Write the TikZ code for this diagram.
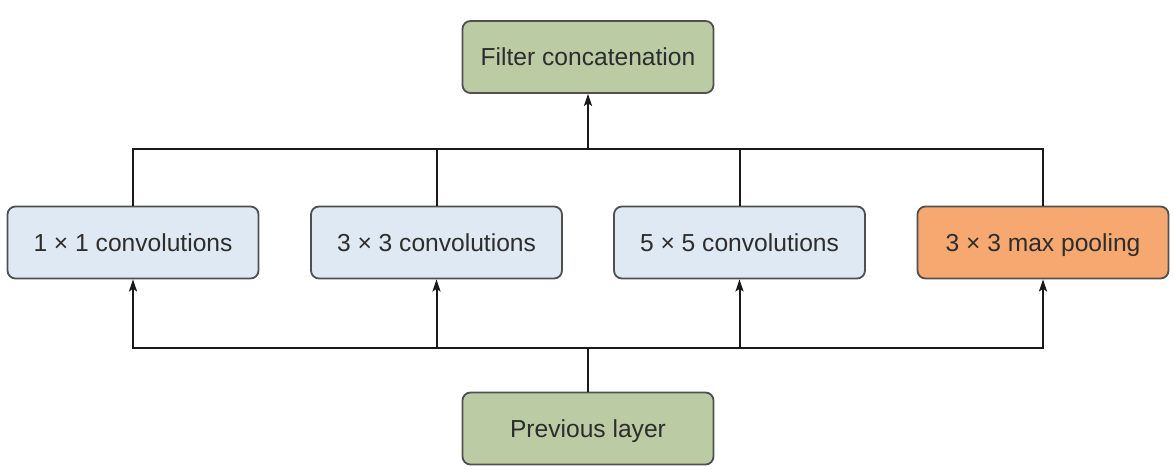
\documentclass[tikz,border=0pt]{standalone}
\usepackage{fontspec}
\setmainfont{Liberation Sans}
\usetikzlibrary{arrows.meta}
\definecolor{boxgreen}{RGB}{187,203,163}
\definecolor{boxblue}{RGB}{222,233,243}
\definecolor{boxorange}{RGB}{246,168,112}
\definecolor{edgegray}{RGB}{80,80,80}
\definecolor{txtgray}{RGB}{45,45,45}
\tikzset{
  layerbox/.style={draw=edgegray, line width=1.8pt, rounded corners=8pt,
    minimum width=251pt, minimum height=72pt, inner sep=0pt,
    text height=17.5pt, text depth=0.5pt,
    font=\fontsize{24.6}{28}\selectfont, text=txtgray},
  greenbox/.style={layerbox, fill=boxgreen},
  bluebox/.style={layerbox, fill=boxblue},
  orangebox/.style={layerbox, fill=boxorange},
  wire/.style={draw=black!90, line width=2pt},
  arr/.style={wire, -{Stealth[length=12pt,width=8pt,inset=2.5pt]}}
}
\begin{document}
\begin{tikzpicture}[x=1pt,y=-1pt]
\useasboundingbox (0,0) rectangle (1174,472);
\node[greenbox] (fc) at (588,57) {Filter concatenation};
\node[bluebox] (c1) at (133,242.5) {1 × 1 convolutions};
\node[bluebox] (c2) at (436.5,242.5) {3 × 3 convolutions};
\node[bluebox] (c3) at (739.5,242.5) {5 × 5 convolutions};
\node[orangebox] (c4) at (1043,242.5) {3 × 3 max pooling};
\node[greenbox] (prev) at (588,428.5) {Previous layer};
\coordinate (ctop) at (588,149);
\coordinate (cbot) at (588,348);
% top merge
\draw[wire] (c1.north) |- (ctop) -| (c4.north);
\draw[wire] (c2.north) -- (c2.north |- ctop);
\draw[wire] (c3.north) -- (c3.north |- ctop);
\draw[arr] (ctop) -- (fc.south);
% bottom split
\draw[wire] (prev.north) -- (cbot);
\draw[arr] (cbot) -| (c1.south);
\draw[arr] (cbot) -| (c4.south);
\draw[arr] (c2.south |- cbot) -- (c2.south);
\draw[arr] (c3.south |- cbot) -- (c3.south);
\end{tikzpicture}
\end{document}
